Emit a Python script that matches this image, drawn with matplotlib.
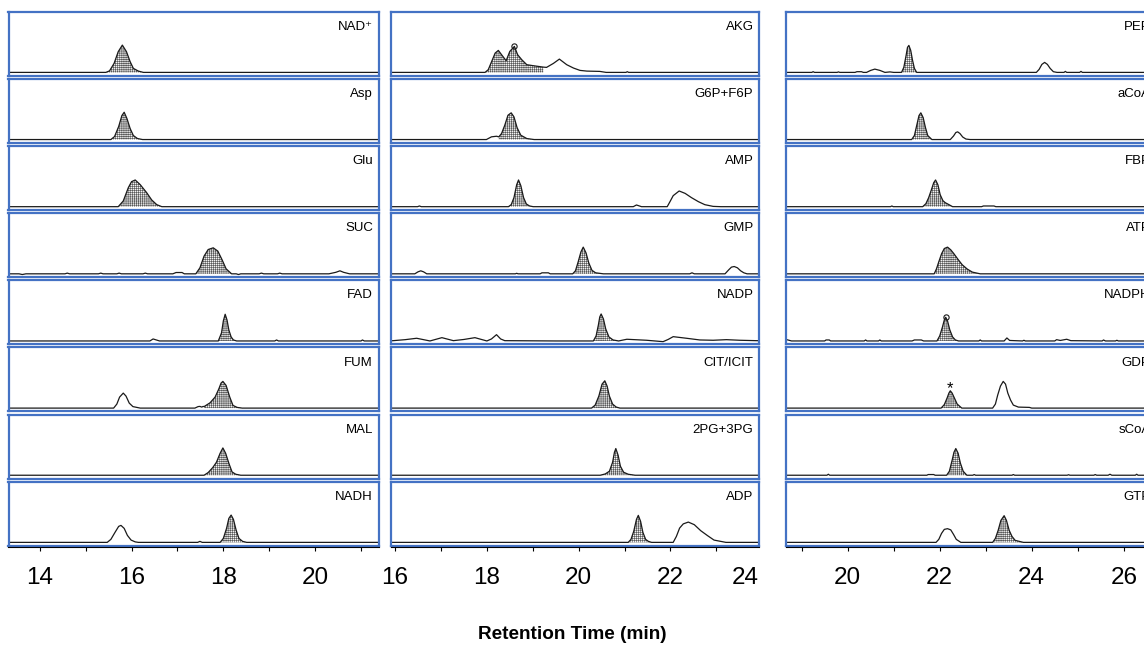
import numpy as np
import matplotlib
matplotlib.use('Agg')
import matplotlib.pyplot as plt
from matplotlib.ticker import MultipleLocator

plt.rcParams['font.family'] = ['Liberation Sans', 'DejaVu Sans']
plt.rcParams['hatch.linewidth'] = 0.45

# traces: (retention time [min], signal above baseline)
# column 1
nad = [(13.2, 0), (15.44, 0), (15.52, 1.5), (15.62, 9), (15.71, 20.7), (15.80, 27.3), (15.89, 20.7),
       (15.97, 10.7), (16.04, 4), (16.15, 1.3), (16.26, 0), (21.5, 0)]
asp = [(13.2, 0), (15.55, 0), (15.63, 3), (15.72, 13), (15.79, 24), (15.84, 27.3), (15.90, 21),
       (15.97, 11), (16.04, 4), (16.13, 1), (16.24, 0), (21.5, 0)]
glu = [(13.2, 0), (15.71, 0), (15.82, 5.7), (15.93, 19), (16.00, 25), (16.08, 26.7), (16.19, 22),
       (16.33, 14), (16.44, 6.7), (16.55, 2), (16.66, 0), (21.5, 0)]
suc = [(13.2, 0), (13.55, 0), (13.62, -0.7), (13.7, 0), (14.55, 0), (14.6, 0.7), (14.65, 0),
       (15.28, 0), (15.33, 0.7), (15.38, 0), (15.68, 0), (15.73, 0.7), (15.78, 0), (16.25, 0),
       (16.3, 0.7), (16.35, 0), (16.9, 0), (16.97, 1.3), (17.1, 1.3), (17.15, 0), (17.40, 0),
       (17.49, 6), (17.58, 17.7), (17.67, 24.3), (17.78, 26), (17.88, 22.7), (17.97, 14.3),
       (18.06, 5), (18.18, 0), (18.28, 0), (18.33, -0.7), (18.38, 0), (18.78, 0), (18.83, 0.7),
       (18.88, 0), (19.18, 0), (19.23, 0.7), (19.28, 0), (20.3, 0), (20.45, 1.5), (20.54, 3),
       (20.62, 1.5), (20.75, 0), (21.5, 0)]
fad = [(13.2, 0), (16.40, 0), (16.47, 2), (16.61, 0), (17.89, 0), (17.96, 8), (18.00, 20),
       (18.04, 26.7), (18.08, 21), (18.12, 11), (18.17, 4), (18.22, 1), (18.29, 0), (19.12, 0),
       (19.16, 1), (19.2, 0), (21.0, 0), (21.03, 1), (21.07, 0), (21.5, 0)]
fum = [(13.2, 0), (15.61, 0), (15.68, 4), (15.74, 11), (15.82, 15), (15.88, 12), (15.95, 5),
       (16.03, 1.5), (16.19, 0), (17.38, 0), (17.45, 1.5), (17.49, 1.7), (17.53, 1.0), (17.56, 1.7),
       (17.58, 1.5), (17.71, 5.3), (17.82, 11), (17.90, 19), (17.95, 25), (17.99, 26.7),
       (18.06, 22.7), (18.14, 11), (18.21, 2.7), (18.30, 0.7), (18.41, 0), (21.5, 0)]
mal = [(13.2, 0), (17.58, 0), (17.67, 2.7), (17.77, 7.7), (17.85, 13), (17.93, 22), (17.99, 27.3),
       (18.05, 22), (18.12, 12), (18.19, 3.3), (18.27, 1), (18.38, 0), (21.5, 0)]
nadh = [(13.2, 0), (15.47, 0), (15.55, 3), (15.64, 10), (15.72, 16), (15.77, 17), (15.84, 14),
        (15.91, 7), (15.99, 2.3), (16.08, 0.5), (16.15, 0), (17.44, 0), (17.49, 1), (17.54, 0),
        (17.93, 0), (18.00, 4), (18.07, 14), (18.12, 24), (18.17, 27.3), (18.22, 23), (18.28, 12),
        (18.34, 4), (18.42, 1), (18.51, 0), (21.5, 0)]

# column 2
akg = [(15.8, 0), (17.96, 0), (18.03, 2.7), (18.09, 9.3), (18.18, 19.3), (18.25, 22), (18.32, 17.7),
       (18.42, 11.7), (18.50, 21), (18.60, 26), (18.67, 17.7), (18.76, 12.7), (18.87, 7.7),
       (19.01, 6.7), (19.23, 5.3), (19.30, 5), (19.45, 9), (19.58, 13.3), (19.74, 7.7), (19.89, 4.3),
       (20.03, 2), (20.18, 1.3), (20.46, 1), (20.6, 0), (21.03, 0), (21.06, 0.7), (21.09, 0), (24.0, 0)]
g6p = [(15.8, 0), (17.99, 0), (18.10, 2.7), (18.21, 3.3), (18.26, 2.7), (18.32, 6), (18.39, 14.3),
       (18.46, 24.3), (18.53, 26.7), (18.59, 22.7), (18.66, 11.7), (18.74, 4.3), (18.87, 1),
       (19.03, 0), (24.0, 0)]
amp = [(15.8, 0), (16.49, 0), (16.53, 0.7), (16.57, 0), (18.47, 0), (18.53, 2), (18.59, 9),
       (18.65, 22), (18.69, 26.7), (18.74, 21), (18.80, 9), (18.86, 2.7), (18.93, 0.7), (19.01, 0),
       (21.19, 0), (21.26, 1.7), (21.37, 0), (21.93, 0), (21.99, 5), (22.06, 11), (22.19, 15.7),
       (22.32, 13.3), (22.46, 9), (22.61, 5), (22.75, 2), (22.93, 0.3), (23.1, 0), (24.0, 0)]
gmp = [(15.8, 0), (16.43, 0), (16.50, 2), (16.56, 3), (16.62, 2), (16.69, 0), (18.62, 0),
       (18.65, 0.5), (18.68, 0), (19.16, 0), (19.2, 1), (19.34, 1), (19.38, 0), (19.87, 0),
       (19.93, 3), (19.99, 12), (20.05, 22), (20.10, 26.7), (20.16, 21), (20.22, 11), (20.29, 3.5),
       (20.37, 1), (20.54, 0), (22.42, 0), (22.47, 1), (22.52, 0), (23.19, 0), (23.27, 4),
       (23.33, 6.7), (23.39, 7.3), (23.46, 6), (23.53, 3), (23.60, 1), (23.67, 0), (24.0, 0)]
nadp = [(15.8, 0), (15.96, 0.3), (16.22, 1.3), (16.47, 2.7), (16.76, 0), (17.02, 3.3), (17.27, 0.3),
        (17.50, 1.5), (17.74, 3.3), (18.0, 0), (18.10, 2), (18.21, 6.3), (18.30, 2), (18.39, 0.3),
        (19.5, 0), (20.32, 0), (20.38, 5), (20.43, 16), (20.46, 24), (20.49, 27), (20.54, 22),
        (20.59, 12), (20.66, 4), (20.75, 1), (20.87, 0), (21.05, 1.7), (21.48, 0.7), (21.84, -0.7),
        (21.95, 1.5), (22.06, 4.3), (22.35, 2.7), (22.64, 1), (22.93, 0.7), (23.22, 1.3),
        (23.51, 0.7), (23.87, 0.3), (24.0, 0.3)]
cit = [(15.8, 0), (20.28, 0), (20.36, 3), (20.44, 12), (20.51, 24), (20.57, 27.3), (20.62, 22),
       (20.67, 12), (20.74, 4), (20.82, 1), (20.90, 0), (24.0, 0)]
pg = [(15.8, 0), (20.47, 0), (20.58, 1.3), (20.67, 4), (20.74, 13), (20.78, 23), (20.81, 26.7),
      (20.86, 20), (20.91, 9), (20.98, 3), (21.08, 1), (21.23, 0), (24.0, 0)]
adp = [(15.8, 0), (21.08, 0), (21.14, 3), (21.20, 11), (21.26, 23), (21.30, 27), (21.35, 21),
       (21.40, 10), (21.46, 3), (21.52, 1), (21.59, 0), (22.06, 0), (22.13, 6), (22.20, 14.3),
       (22.28, 18.5), (22.39, 20.3), (22.52, 17.7), (22.66, 11.7), (22.81, 6.7), (22.95, 2.3),
       (23.13, 0.7), (23.21, 0), (24.0, 0)]

# column 3
pep = [(18.5, 0), (19.22, 0), (19.25, 0.7), (19.28, 0), (19.77, 0), (19.80, 0.5), (19.83, 0),
       (20.16, 0), (20.2, 0.7), (20.3, 0.7), (20.34, 0), (20.41, 0), (20.50, 2), (20.59, 3.3),
       (20.70, 2), (20.81, 0), (20.92, 0.5), (21.0, 0), (21.17, 0), (21.22, 5), (21.27, 17),
       (21.30, 25), (21.33, 27), (21.37, 22), (21.41, 12), (21.45, 4), (21.50, 0), (24.10, 0),
       (24.16, 3), (24.22, 8), (24.28, 10), (24.34, 8), (24.40, 4), (24.47, 0.7), (24.55, 0),
       (24.70, 0), (24.73, 1), (24.76, 0), (25.04, 0), (25.07, 1), (25.10, 0), (26.8, 0)]
acoa = [(18.5, 0), (21.39, 0), (21.45, 4), (21.50, 14), (21.55, 24), (21.59, 26.7), (21.64, 22),
        (21.69, 12), (21.74, 4), (21.83, 0), (22.23, 0), (22.30, 3.5), (22.35, 7), (22.39, 7.7),
        (22.44, 6), (22.50, 2.5), (22.57, 0.5), (22.66, 0), (26.8, 0)]
fbp = [(18.5, 0), (20.93, 0), (20.96, 0.7), (20.99, 0), (21.63, 0), (21.70, 3), (21.76, 9),
       (21.82, 17), (21.87, 24), (21.91, 26.7), (21.96, 22), (22.01, 12), (22.07, 6), (22.12, 4),
       (22.19, 2.3), (22.28, 0), (22.91, 0), (22.95, 0.7), (23.18, 0.7), (23.22, 0), (26.8, 0)]
atp = [(18.5, 0), (21.88, 0), (21.93, 5), (21.98, 12), (22.04, 20), (22.10, 25.3), (22.17, 26.7),
       (22.24, 24), (22.31, 20), (22.40, 14.3), (22.49, 9), (22.60, 4.7), (22.71, 1.7), (22.88, 0),
       (26.8, 0)]
nadph = [(18.5, 2), (18.66, 1.5), (18.78, 0), (19.5, 0), (19.53, 1), (19.6, 1), (19.63, 0),
         (20.36, 0), (20.39, 1), (20.42, 0), (20.67, 0), (20.70, 1), (20.73, 0), (21.4, 0),
         (21.45, 1), (21.6, 1), (21.65, 0), (21.94, 0), (22.00, 5), (22.06, 14), (22.10, 21),
         (22.13, 23.7), (22.17, 20), (22.22, 11), (22.28, 4), (22.34, 1), (22.41, 0), (22.85, 0),
         (22.88, 1), (22.91, 0), (23.40, 0), (23.46, 3), (23.52, 0.5), (23.80, 0), (23.83, 0.7),
         (23.86, 0), (24.50, 0), (24.54, 1.3), (24.62, 0.5), (24.76, 1.7), (24.85, 0.3), (25.53, 0),
         (25.56, 1), (25.60, 0), (25.82, 0), (25.85, 0.7), (25.88, 0), (26.8, 0)]
gdp = [(18.5, 0), (22.03, 0), (22.10, 3.5), (22.16, 10), (22.20, 15), (22.23, 17.3), (22.27, 15),
       (22.32, 10), (22.38, 4), (22.48, 0), (23.15, 0), (23.21, 4), (23.26, 13), (23.32, 22),
       (23.38, 26.7), (23.43, 24), (23.48, 15), (23.54, 8), (23.60, 3), (23.71, 1), (23.95, 0.7),
       (24.0, 0), (26.8, 0)]
scoa = [(18.5, 0), (19.55, 0), (19.58, 1), (19.61, 0), (21.72, 0), (21.75, 0.7), (21.87, 0.7),
        (21.90, 0), (22.15, 0), (22.21, 4), (22.27, 15), (22.31, 23), (22.35, 26.7), (22.40, 22),
        (22.45, 12), (22.51, 4), (22.59, 0), (22.72, 0), (22.75, 0.7), (22.78, 0), (23.57, 0),
        (23.60, 0.7), (23.63, 0), (24.77, 0), (24.80, 0.5), (24.83, 0), (25.35, 0), (25.38, 0.7),
        (25.41, 0), (25.66, 0), (25.70, 1), (25.74, 0), (26.25, 0), (26.28, 1), (26.31, 0), (26.8, 0)]
gtp = [(18.5, 0), (21.92, 0), (21.98, 3), (22.04, 9), (22.10, 13), (22.17, 13.7), (22.24, 12.5),
       (22.30, 8), (22.36, 3), (22.46, 0), (23.15, 0), (23.21, 4), (23.27, 12), (23.33, 22),
       (23.40, 26.7), (23.45, 22), (23.51, 12), (23.57, 6), (23.64, 2), (23.82, 0), (26.8, 0)]

# panel name, trace, integration window
columns = [
    [('NAD⁺', nad, (15.44, 16.26)), ('Asp', asp, (15.55, 16.24)), ('Glu', glu, (15.71, 16.66)),
     ('SUC', suc, (17.40, 18.18)), ('FAD', fad, (17.89, 18.29)), ('FUM', fum, (17.58, 18.41)),
     ('MAL', mal, (17.58, 18.38)), ('NADH', nadh, (17.93, 18.51))],
    [('AKG', akg, (17.96, 19.23)), ('G6P+F6P', g6p, (18.26, 19.03)), ('AMP', amp, (18.47, 19.01)),
     ('GMP', gmp, (19.87, 20.54)), ('NADP', nadp, (20.32, 20.87)), ('CIT/ICIT', cit, (20.28, 20.90)),
     ('2PG+3PG', pg, (20.47, 21.23)), ('ADP', adp, (21.08, 21.59))],
    [('PEP', pep, (21.17, 21.50)), ('aCoA', acoa, (21.39, 21.83)), ('FBP', fbp, (21.63, 22.28)),
     ('ATP', atp, (21.88, 22.88)), ('NADPH', nadph, (21.94, 22.41)), ('GDP', gdp, (22.03, 22.48)),
     ('sCoA', scoa, (22.15, 22.59)), ('GTP', gtp, (23.15, 23.82))],
]
circled = ['AKG', 'NADPH']
starred = ['GDP']

col_xlim = [(13.32, 21.38), (15.90, 23.93), (18.66, 26.70)]
col_left = [8.5, 390.5, 786]
col_width = [370, 368.5, 370]

W, H = 1144, 645
row_top0, row_pitch, row_h = 11.7, 67.14, 64
blue = '#4472C4'

fig = plt.figure(figsize=(W / 100, H / 100), dpi=100)

for c, panels in enumerate(columns):
    for r, (name, trace, win) in enumerate(panels):
        top = row_top0 + r * row_pitch
        ax = fig.add_axes([col_left[c] / W, 1 - (top + row_h) / H, col_width[c] / W, row_h / H])
        t = np.array([p[0] for p in trace])
        y = np.array([p[1] for p in trace])
        mask = (t >= win[0]) & (t <= win[1])
        ax.fill_between(t, y, 0, where=mask, facecolor='#f4f4f4', edgecolor='#5a5a5a',
                        hatch='++++++++', linewidth=0)
        ax.plot(t, y, color='#1a1a1a', lw=0.9)
        k = np.argmax(np.where(mask, y, -1))
        if name in circled:
            ax.plot(t[k], y[k], 'o', mfc='none', mec='#1a1a1a', ms=3.8, mew=0.8)
        if name in starred:
            ax.annotate('*', (t[k], y[k]), xytext=(0, -4), textcoords='offset points',
                        ha='center', va='bottom', fontsize=12)
        ax.set_xlim(*col_xlim[c])
        ax.set_ylim(-3.3, 60.7)
        ax.set_xticks([])
        ax.set_yticks([])
        for s in ax.spines.values():
            s.set_color(blue)
            s.set_linewidth(1.6)
        # right-hand column runs past the figure edge, as in the source figure
        ax.text(0.985, 0.715, name, transform=ax.transAxes, ha='right', va='baseline', fontsize=9.5)

    # retention time axis under each column
    axx = fig.add_axes([col_left[c] / W, 1 - 547 / H, col_width[c] / W, 0.0005])
    axx.patch.set_visible(False)
    for side in ['top', 'left', 'right']:
        axx.spines[side].set_visible(False)
    axx.spines['bottom'].set_linewidth(0.8)
    axx.set_xlim(*col_xlim[c])
    axx.set_yticks([])
    axx.xaxis.set_major_locator(MultipleLocator(2))
    axx.xaxis.set_minor_locator(MultipleLocator(1))
    axx.tick_params(axis='x', which='both', direction='out', length=3.2, width=0.8)
    axx.tick_params(axis='x', which='major', labelsize=17.5, pad=11)
    axx.xaxis.set_major_formatter(lambda v, p: f'{v:.0f}')
    if c == 1:
        axx.annotate('24', xy=(0.962, 0), xycoords='axes fraction', xytext=(0, -14.2),
                     textcoords='offset points', ha='center', va='top', fontsize=17.5)

fig.text(0.5, 1 - 639 / H, 'Retention Time (min)', ha='center', va='baseline',
         fontsize=13.7, fontweight='bold')

fig.savefig('out.png', dpi=100)
